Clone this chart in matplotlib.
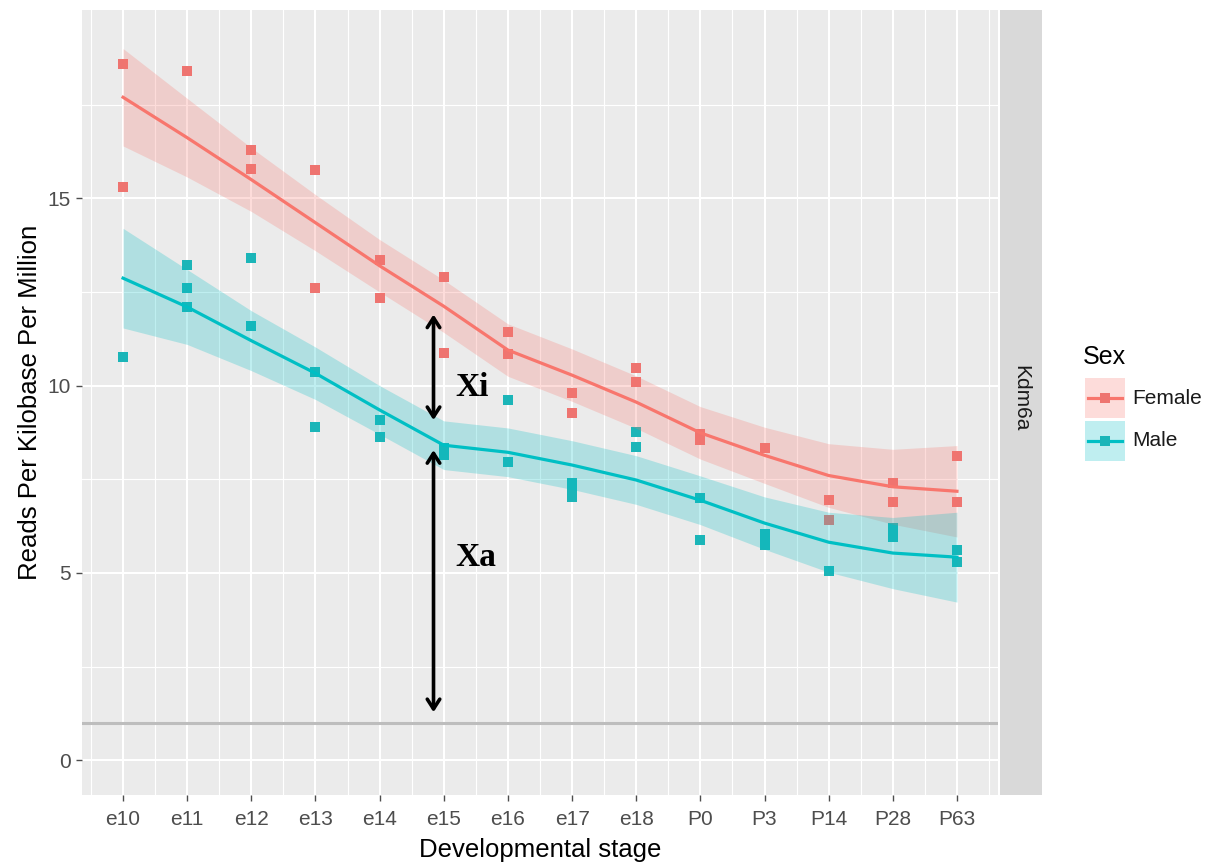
import matplotlib
matplotlib.use("Agg")
import matplotlib.pyplot as plt
from matplotlib.lines import Line2D
from matplotlib.patches import Rectangle
import numpy as np

plt.rcParams['font.family'] = ['Liberation Sans', 'DejaVu Sans']

stages = ["e10", "e11", "e12", "e13", "e14", "e15", "e16", "e17", "e18",
          "P0", "P3", "P14", "P28", "P63"]

# observed points (stage index, value)
female_x = [0, 0, 1, 2, 2, 3, 3, 4, 4, 5, 5, 6, 6, 7, 7, 8, 8, 9, 9, 10, 11, 11, 12, 12, 13, 13]
female_y = [18.6, 15.3, 18.4, 16.3, 15.78, 15.75, 12.6, 13.35, 12.35, 12.9, 10.87,
            11.42, 10.85, 9.8, 9.27, 10.47, 10.1, 8.7, 8.55, 8.33, 6.94, 6.42,
            7.4, 6.9, 8.12, 6.9]
male_x = [0, 1, 1, 1, 2, 2, 3, 3, 4, 4, 5, 5, 6, 6, 7, 7, 7, 8, 8, 9, 9, 10, 10, 10, 11, 12, 12, 13, 13]
male_y = [10.76, 13.22, 12.6, 12.1, 13.42, 11.6, 10.36, 8.9, 9.08, 8.63, 8.33, 8.14,
          9.62, 7.96, 7.4, 7.2, 7.03, 8.76, 8.36, 7.0, 5.87, 6.05, 5.9, 5.75, 5.05,
          6.2, 5.95, 5.6, 5.3]

# smoothed fit and confidence band
female_fit = [17.7, 16.62, 15.5, 14.35, 13.2, 12.12, 10.95, 10.28, 9.56, 8.74, 8.14, 7.6, 7.3, 7.18]
female_se = [1.3, 1.05, 0.85, 0.75, 0.7, 0.7, 0.7, 0.7, 0.7, 0.7, 0.75, 0.85, 1.0, 1.22]
male_fit = [12.87, 12.1, 11.2, 10.33, 9.35, 8.41, 8.22, 7.88, 7.48, 6.94, 6.33, 5.82, 5.53, 5.42]
male_se = [1.33, 1.0, 0.8, 0.7, 0.65, 0.65, 0.65, 0.65, 0.65, 0.65, 0.7, 0.8, 0.95, 1.2]

sexes = ["Female", "Male"]
legend_title = "Sex"
facet_label = "Kdm6a"
ref_line = 1.0

RED = "#F8766D"
TEAL = "#00BFC4"
PT_RED = "#EE7470"
PT_TEAL = "#1BB5B8"

W, H = 1210, 863
fig = plt.figure(figsize=(W / 100, H / 100), dpi=100)
ax = fig.add_axes([82/W, 1-795/H, (998-82)/W, (795-10)/H])
ax.set_facecolor("#EBEBEB")

xs = np.arange(len(stages))
ax.set_xlim(-0.64, len(stages) - 1 + 0.64)
ax.set_ylim(-0.93, 20.03)

# grid
for v in np.arange(-0.5, len(stages), 1.0):
    ax.axvline(v, color="white", lw=0.8, zorder=0)
for v in xs:
    ax.axvline(v, color="white", lw=1.5, zorder=0)
for v in [2.5, 7.5, 12.5, 17.5]:
    ax.axhline(v, color="white", lw=0.8, zorder=0)
for v in [0, 5, 10, 15]:
    ax.axhline(v, color="white", lw=1.5, zorder=0)

ax.axhline(ref_line, color="#BDBDBD", lw=2.2, zorder=1)

# points (under ribbons, as in ggplot layer order)
ax.scatter(female_x, female_y, marker="s", s=44, color=PT_RED, zorder=2, linewidths=0)
ax.scatter(male_x, male_y, marker="s", s=44, color=PT_TEAL, zorder=2, linewidths=0)

ff = np.array(female_fit); fs = np.array(female_se)
mf = np.array(male_fit); ms = np.array(male_se)
ax.fill_between(xs, ff - fs, ff + fs, color=RED, alpha=0.25, lw=0, zorder=3)
ax.fill_between(xs, mf - ms, mf + ms, color=TEAL, alpha=0.25, lw=0, zorder=3)
ax.plot(xs, ff, color=RED, lw=2.3, zorder=4, solid_joinstyle="round")
ax.plot(xs, mf, color=TEAL, lw=2.3, zorder=4, solid_joinstyle="round")

# annotations
ax.annotate("", xy=(4.84, 11.9), xytext=(4.84, 9.08),
            arrowprops=dict(arrowstyle="<->,head_length=0.7,head_width=0.45", color="black", lw=2.6,
                            shrinkA=0, shrinkB=0), zorder=6)
ax.annotate("", xy=(4.84, 8.28), xytext=(4.84, 1.28),
            arrowprops=dict(arrowstyle="<->,head_length=0.7,head_width=0.45", color="black", lw=2.6,
                            shrinkA=0, shrinkB=0), zorder=6)
ax.text(5.18, 9.95, "Xi", fontsize=24, fontweight="bold", family=["Liberation Serif", "DejaVu Serif"],
        va="center", ha="left", zorder=6)
ax.text(5.18, 5.4, "Xa", fontsize=24, fontweight="bold", family=["Liberation Serif", "DejaVu Serif"],
        va="center", ha="left", zorder=6)

# axes styling
for s in ax.spines.values():
    s.set_visible(False)
ax.set_xticks(xs)
ax.set_xticklabels(stages)
ax.set_yticks([0, 5, 10, 15])
ax.tick_params(axis="both", colors="#4D4D4D", labelsize=15, length=4, width=1)
ax.tick_params(axis="x", pad=7)
ax.tick_params(axis="y", pad=4)
ax.set_xlabel("Developmental stage", fontsize=18.5, color="black", labelpad=6)
ax.set_ylabel("Reads Per Kilobase Per Million", fontsize=18.5, color="black", labelpad=4)

# facet strip
sax = fig.add_axes([1000/W, 1-795/H, 42/W, (795-10)/H])
sax.set_facecolor("#D9D9D9")
sax.set_xticks([]); sax.set_yticks([])
for s in sax.spines.values():
    s.set_visible(False)
sax.text(0.5, 0.505, facet_label, rotation=270, ha="center", va="center",
         fontsize=15, color="#1A1A1A", transform=sax.transAxes)

# legend drawn in figure pixel coordinates
def fx(px):
    return px / W

def fy(py):
    return 1 - py / H

fig.text(fx(1083), fy(357), legend_title, fontsize=18, ha="left", va="center", color="black")
for label, col, ptcol, top in [(sexes[0], RED, PT_RED, 378), (sexes[1], TEAL, PT_TEAL, 421)]:
    fig.add_artist(Rectangle((fx(1085), fy(top + 40)), 40 / W, 40 / H, transform=fig.transFigure,
                             facecolor=col, alpha=0.25, edgecolor="none"))
    fig.add_artist(Line2D([fx(1088), fx(1122)], [fy(top + 20), fy(top + 20)], transform=fig.transFigure,
                          color=col, lw=2.3))
    fig.add_artist(Line2D([fx(1105)], [fy(top + 20)], transform=fig.transFigure, color=ptcol,
                          marker="s", markersize=6.5, markeredgewidth=0))
    fig.text(fx(1132), fy(top + 20), label, fontsize=15, ha="left", va="center", color="#1A1A1A")

fig.savefig("out.png", dpi=100)
